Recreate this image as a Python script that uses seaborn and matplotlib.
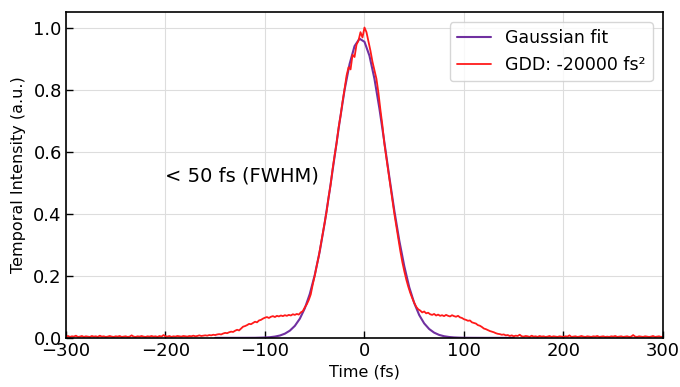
import matplotlib
matplotlib.use("Agg")
import matplotlib.pyplot as plt
import numpy as np
import pandas as pd
import seaborn as sns

# Измеренный импульс (GDD -20000 fs^2), шаг 2 fs от -300 до 300
t_meas = np.arange(-300, 301, 2)
i_meas = [
    0.004, 0.006, 0.003, 0.005, 0.004, 0.007, 0.003, 0.004, 0.006, 0.003,  # -300
    0.005, 0.004, 0.003, 0.006, 0.004, 0.005, 0.003, 0.007, 0.004, 0.005,  # -280
    0.003, 0.004, 0.006, 0.004, 0.003, 0.005, 0.004, 0.006, 0.003, 0.004,  # -260
    0.005, 0.003, 0.004, 0.008, 0.004, 0.003, 0.005, 0.004, 0.006, 0.004,  # -240
    0.003, 0.005, 0.004, 0.006, 0.004, 0.005, 0.003, 0.006, 0.004, 0.009,  # -220
    0.005, 0.004, 0.006, 0.003, 0.005, 0.004, 0.006, 0.005, 0.004, 0.006,  # -200
    0.005, 0.004, 0.006, 0.005, 0.007, 0.005, 0.006, 0.008, 0.006, 0.007,  # -180
    0.008, 0.007, 0.009, 0.008, 0.010, 0.009, 0.011, 0.012, 0.011, 0.014,  # -160
    0.016, 0.015, 0.018, 0.020, 0.019, 0.023, 0.026, 0.024, 0.030, 0.036,  # -140
    0.038, 0.041, 0.045, 0.044, 0.048, 0.052, 0.050, 0.056, 0.058, 0.062,  # -120
    0.065, 0.067, 0.064, 0.068, 0.070, 0.067, 0.071, 0.069, 0.072, 0.070,  # -100
    0.073, 0.071, 0.074, 0.072, 0.076, 0.074, 0.077, 0.075, 0.082, 0.086,  # -80
    0.098, 0.108, 0.122, 0.140, 0.172, 0.200, 0.232, 0.262, 0.298, 0.332,  # -60
    0.372, 0.408, 0.455, 0.494, 0.545, 0.588, 0.628, 0.678, 0.716, 0.762,  # -40
    0.802, 0.845, 0.872, 0.865, 0.912, 0.905, 0.945, 0.958, 0.985, 0.968,  # -20
    1.000, 0.985, 0.955, 0.925, 0.890, 0.862, 0.835, 0.790, 0.735, 0.685,  # 0
    0.625, 0.580, 0.535, 0.488, 0.443, 0.400, 0.360, 0.318, 0.280, 0.245,  # 20
    0.215, 0.188, 0.165, 0.145, 0.128, 0.113, 0.100, 0.092, 0.088, 0.082,  # 40
    0.085, 0.079, 0.081, 0.076, 0.074, 0.077, 0.072, 0.075, 0.071, 0.073,  # 60
    0.070, 0.074, 0.071, 0.069, 0.073, 0.070, 0.068, 0.071, 0.066, 0.064,  # 80
    0.060, 0.058, 0.055, 0.056, 0.050, 0.048, 0.046, 0.041, 0.039, 0.035,  # 100
    0.030, 0.028, 0.025, 0.022, 0.020, 0.018, 0.015, 0.013, 0.012, 0.010,  # 120
    0.011, 0.008, 0.009, 0.006, 0.008, 0.005, 0.007, 0.006, 0.010, 0.005,  # 140
    0.004, 0.006, 0.005, 0.003, 0.007, 0.004, 0.005, 0.003, 0.006, 0.004,  # 160
    0.005, 0.003, 0.004, 0.006, 0.003, 0.005, 0.004, 0.003, 0.005, 0.004,  # 180
    0.003, 0.005, 0.004, 0.008, 0.003, 0.004, 0.005, 0.003, 0.004, 0.006,  # 200
    0.004, 0.003, 0.005, 0.004, 0.003, 0.005, 0.004, 0.006, 0.003, 0.004,  # 220
    0.005, 0.003, 0.004, 0.003, 0.005, 0.004, 0.006, 0.003, 0.004, 0.005,  # 240
    0.003, 0.004, 0.005, 0.003, 0.004, 0.009, 0.004, 0.003, 0.005, 0.004,  # 260
    0.003, 0.005, 0.004, 0.003, 0.004, 0.006, 0.003, 0.004, 0.005, 0.003,  # 280
    0.004,                                                                 # 300
]

# Гауссова аппроксимация
t_fit = [-150, -120, -110, -100, -95, -90, -85, -80, -75, -70, -65, -60,
         -55, -50, -45, -40, -35, -30, -25, -20, -15, -10, -5, 0, 5, 10,
         15, 20, 25, 30, 35, 40, 45, 50, 55, 60, 65, 70, 75, 80, 85, 90,
         95, 100, 110, 120, 150]
i_fit = [0.0, 0.00005, 0.0002, 0.0011, 0.0021, 0.0041, 0.0075, 0.0135,
         0.0232, 0.0385, 0.0616, 0.0949, 0.141, 0.202, 0.278, 0.370, 0.474,
         0.585, 0.696, 0.799, 0.882, 0.940, 0.964, 0.954, 0.909, 0.835,
         0.739, 0.630, 0.518, 0.410, 0.313, 0.231, 0.163, 0.112, 0.0735,
         0.0466, 0.0285, 0.0168, 0.0095, 0.0052, 0.0028, 0.0014, 0.0007,
         0.0003, 0.0001, 0.0, 0.0]

sns.set_style("whitegrid", {"grid.color": "#dddddd", "axes.edgecolor": "black",
                            "text.color": "black", "axes.labelcolor": "black",
                            "xtick.color": "black", "ytick.color": "black"})
plt.rcParams['font.family'] = ['DejaVu Sans']

fig = plt.figure(figsize=(6.8, 3.87), dpi=100)
ax = fig.add_axes([0.097, 0.127, 0.878, 0.842])

fit_df = pd.DataFrame({'t': t_fit, 'I': i_fit})
meas_df = pd.DataFrame({'t': t_meas, 'I': i_meas})

sns.lineplot(data=fit_df, x='t', y='I', ax=ax, color='#7030a0', lw=1.5,
             label='Gaussian fit', estimator=None)
sns.lineplot(data=meas_df, x='t', y='I', ax=ax, color='#ff1a1a', lw=1.3,
             label='GDD: -20000 fs²', estimator=None)

ax.set_xlim(-300, 300)
ax.set_ylim(0, 1.05)
ax.set_xticks([-300, -200, -100, 0, 100, 200, 300])
ax.set_yticks([0.0, 0.2, 0.4, 0.6, 0.8, 1.0])
ax.set_xlabel('Time (fs)', fontsize=11.5, labelpad=3)
ax.set_ylabel('Temporal Intensity (a.u.)', fontsize=11.5, labelpad=5)
ax.tick_params(axis='both', direction='in', length=5, width=1, labelsize=13,
               bottom=True, left=True, colors='black', pad=3)
for s in ax.spines.values():
    s.set_color('black')
    s.set_linewidth(1.2)

ax.text(-200, 0.52, '< 50 fs (FWHM)', fontsize=14, va='center', ha='left',
        color='black')
leg = ax.legend(loc='upper right', fontsize=12.5, frameon=True,
                edgecolor='#cccccc', borderaxespad=0.6)
for txt in leg.get_texts():
    txt.set_color('black')

plt.savefig('out.png', dpi=100)
